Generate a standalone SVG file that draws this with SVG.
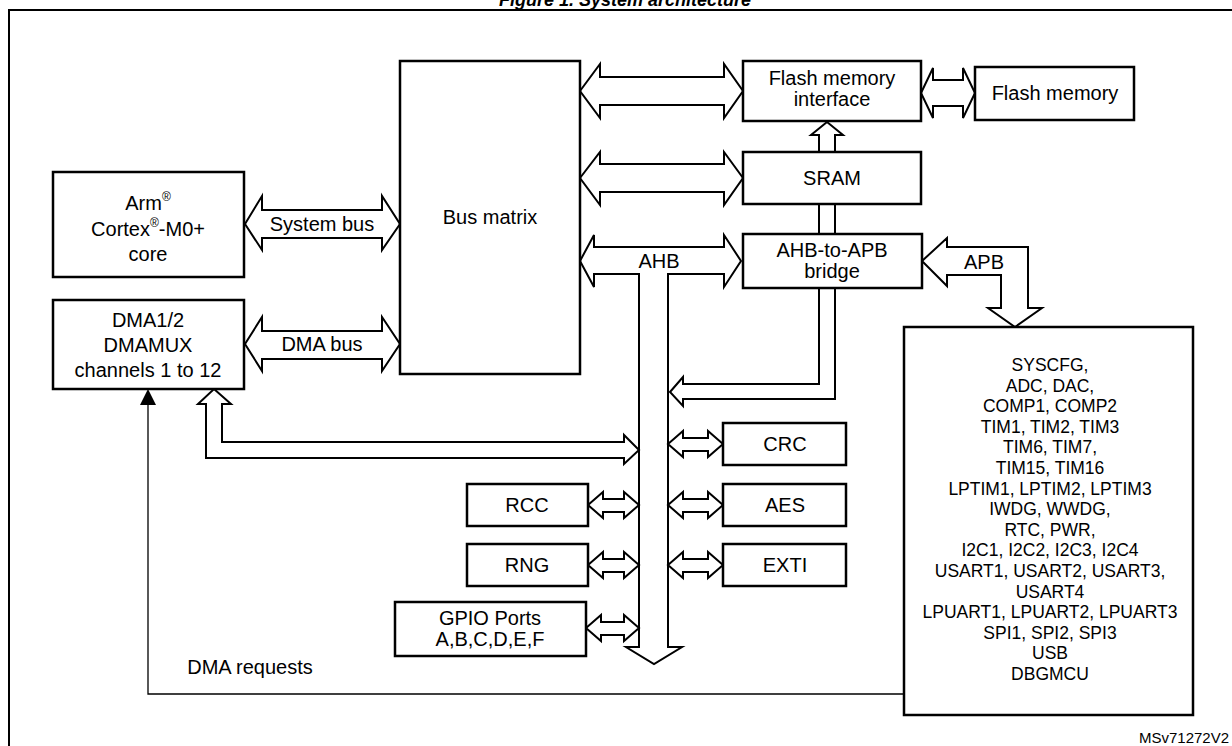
<svg xmlns="http://www.w3.org/2000/svg" width="1232" height="746" viewBox="0 0 1232 746">
<style>
text{font-family:"Liberation Sans",Arial,sans-serif;font-size:20px;fill:#000;text-anchor:middle}
.box{fill:#fff;stroke:#000;stroke-width:2.5}
.ar{fill:#fff;stroke:#000;stroke-width:2;stroke-linejoin:miter}
.ln{fill:none;stroke:#000;stroke-width:2}
.thin{fill:none;stroke:#000;stroke-width:1.3}
text.list{font-size:17.5px}
.sup{font-size:12px}
</style>
<rect width="1232" height="746" fill="#fff"/>
<text x="625" y="6" style="font-weight:bold;font-style:italic;font-size:18px">Figure 1. System architecture</text>
<path class="ln" d="M9,760 V10 H1240"/>

<g id="connectors">
  <polygon class="ar" points="245,224 262,196 262,210 382,210 382,196 400,224 382,250 382,238 262,238 262,250"/>
  <text x="322" y="231">System bus</text>
  <polygon class="ar" points="245,344 262,317 262,331 382,331 382,317 400,344 382,371 382,359 262,359 262,371"/>
  <text x="322" y="351">DMA bus</text>
  <polygon class="ar" points="580,91 600,64 600,77 724,77 724,64 743,91 724,118 724,105 600,105 600,118"/>
  <polygon class="ar" points="580,178 600,152 600,164 724,164 724,152 743,178 724,205 724,192 600,192 600,205"/>
  <polygon class="ar" points="921,93 933,68 933,80 963,80 963,68 975,93 963,118 963,106 933,106 933,118"/>
  <polygon class="ar" points="827,122 843,135 835,135 835,152 819,152 819,135 811,135"/>
  <path class="ln" d="M819,204 V234 M835,204 V234"/>
  <polygon class="ar" points="580,261 594,235 594,247 724,247 724,235 741,261 724,287 724,274 668,274 668,647 682,647 654,664 626,647 639,647 639,274 594,274 594,287"/>
  <text x="659" y="268">AHB</text>
  <polygon class="ar" points="670,392 683,377 683,384 819,384 819,288 835,288 835,399 683,399 683,406"/>
  <polygon class="ar" points="922,261 947,238 947,247 1028,247 1028,308 1042,308 1015,327 988,308 1001,308 1001,275 947,275 947,286"/>
  <text x="984" y="269">APB</text>
  <polygon class="ar" points="214,389 231,404 222,404 222,442 624,442 624,435 639,450 624,464 624,458 206,458 206,404 198,404"/>
  <g id="small-arrows">
    <polygon class="ar" points="668,444 683,431 683,438 708,438 708,431 723,444 708,457 708,451 683,451 683,457"/>
    <polygon class="ar" points="668,505 683,492 683,499 708,499 708,492 723,505 708,518 708,512 683,512 683,518"/>
    <polygon class="ar" points="668,565 683,552 683,559 708,559 708,552 723,565 708,578 708,572 683,572 683,578"/>
    <polygon class="ar" points="588,505 603,492 603,499 624,499 624,492 639,505 624,518 624,512 603,512 603,518"/>
    <polygon class="ar" points="588,565 603,552 603,559 624,559 624,552 639,565 624,578 624,572 603,572 603,578"/>
    <polygon class="ar" points="586,628 601,615 601,622 624,622 624,615 639,628 624,641 624,635 601,635 601,641"/>
  </g>
  <path class="thin" d="M904,694 H148 V404"/>
  <polygon points="148,389 156,405 140,405" fill="#000"/>
  <text x="250" y="674">DMA requests</text>
</g>

<g id="arm"><rect class="box" x="53" y="172" width="191" height="105"/>
  <text x="148" y="210">Arm<tspan class="sup" dy="-9">®</tspan></text>
  <text x="148" y="236">Cortex<tspan class="sup" dy="-9">®</tspan><tspan dy="9">-M0+</tspan></text>
  <text x="148" y="261">core</text></g>
<g id="dma"><rect class="box" x="53" y="300" width="191" height="89"/>
  <text x="148" y="327">DMA1/2</text><text x="148" y="352">DMAMUX</text><text x="148" y="377">channels 1 to 12</text></g>
<g id="busmatrix"><rect class="box" x="400" y="61" width="180" height="313"/>
  <text x="490" y="224">Bus matrix</text></g>
<g id="flashif"><rect class="box" x="743" y="61" width="178" height="60"/>
  <text x="832" y="85">Flash memory</text><text x="832" y="106">interface</text></g>
<g id="flash"><rect class="box" x="975" y="67" width="159" height="53"/>
  <text x="1055" y="100">Flash memory</text></g>
<g id="sram"><rect class="box" x="743" y="152" width="178" height="52"/>
  <text x="832" y="185">SRAM</text></g>
<g id="bridge"><rect class="box" x="743" y="234" width="179" height="54"/>
  <text x="832" y="257">AHB-to-APB</text><text x="832" y="278">bridge</text></g>
<g id="crc"><rect class="box" x="723" y="423" width="123" height="42"/><text x="785" y="451">CRC</text></g>
<g id="aes"><rect class="box" x="723" y="484" width="123" height="42"/><text x="785" y="512">AES</text></g>
<g id="exti"><rect class="box" x="723" y="544" width="123" height="42"/><text x="785" y="572">EXTI</text></g>
<g id="rcc"><rect class="box" x="467" y="484" width="121" height="42"/><text x="527" y="512">RCC</text></g>
<g id="rng"><rect class="box" x="467" y="544" width="121" height="42"/><text x="527" y="572">RNG</text></g>
<g id="gpio"><rect class="box" x="395" y="602" width="191" height="54"/>
  <text x="490" y="625">GPIO Ports</text><text x="490" y="646">A,B,C,D,E,F</text></g>
<g id="apbperiph"><rect class="box" x="904" y="327" width="289" height="388"/>
  <text class="list" x="1050" y="371">SYSCFG,</text>
  <text class="list" x="1050" y="391.6">ADC, DAC,</text>
  <text class="list" x="1050" y="412.2">COMP1, COMP2</text>
  <text class="list" x="1050" y="432.8">TIM1, TIM2, TIM3</text>
  <text class="list" x="1050" y="453.4">TIM6, TIM7,</text>
  <text class="list" x="1050" y="474">TIM15, TIM16</text>
  <text class="list" x="1050" y="494.6">LPTIM1, LPTIM2, LPTIM3</text>
  <text class="list" x="1050" y="515.2">IWDG, WWDG,</text>
  <text class="list" x="1050" y="535.8">RTC, PWR,</text>
  <text class="list" x="1050" y="556.4">I2C1, I2C2, I2C3, I2C4</text>
  <text class="list" x="1050" y="577">USART1, USART2, USART3,</text>
  <text class="list" x="1050" y="597.6">USART4</text>
  <text class="list" x="1050" y="618.2">LPUART1, LPUART2, LPUART3</text>
  <text class="list" x="1050" y="638.8">SPI1, SPI2, SPI3</text>
  <text class="list" x="1050" y="659.4">USB</text>
  <text class="list" x="1050" y="680">DBGMCU</text>
</g>
<text x="1139" y="743" style="font-size:15px;text-anchor:start">MSv71272V2</text>
</svg>
